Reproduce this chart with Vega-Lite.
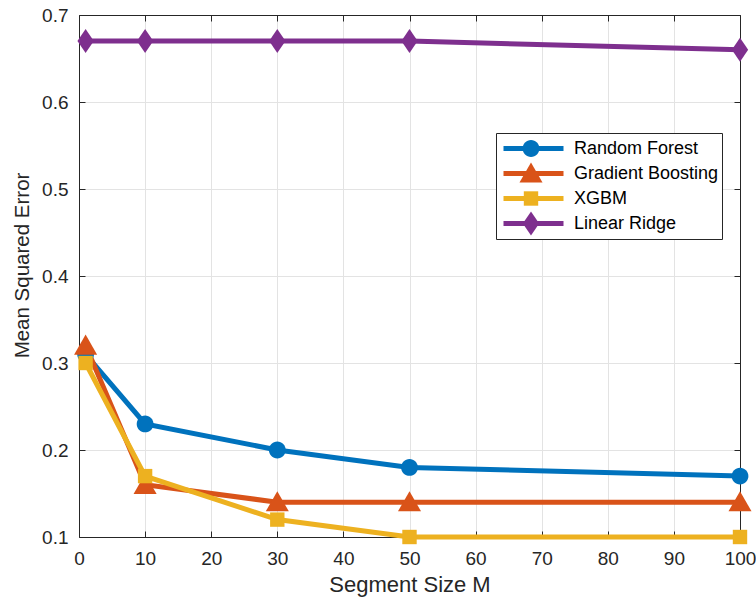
{
  "$schema": "https://vega.github.io/schema/vega-lite/v6.json",
  "width": 661,
  "height": 522,
  "autosize": {"type": "none"},
  "padding": {"left": 79, "top": 15, "right": 16, "bottom": 64},
  "background": "white",
  "config": {
    "view": {"stroke": null},
    "font": "Liberation Sans",
    "axis": {
      "domainColor": "#262626",
      "tickColor": "#262626",
      "tickSize": -6,
      "labelColor": "#262626",
      "labelFontSize": 19,
      "titleColor": "#262626",
      "titleFontSize": 21,
      "titleFontWeight": "normal",
      "gridColor": "#e3e3e3",
      "labelFlush": false,
      "labelOverlap": false
    }
  },
  "data": {
    "values": [
      {"model": "Random Forest", "M": 1, "mse": 0.31},
      {"model": "Random Forest", "M": 10, "mse": 0.23},
      {"model": "Random Forest", "M": 30, "mse": 0.20},
      {"model": "Random Forest", "M": 50, "mse": 0.18},
      {"model": "Random Forest", "M": 100, "mse": 0.17},
      {"model": "Gradient Boosting", "M": 1, "mse": 0.32},
      {"model": "Gradient Boosting", "M": 10, "mse": 0.16},
      {"model": "Gradient Boosting", "M": 30, "mse": 0.14},
      {"model": "Gradient Boosting", "M": 50, "mse": 0.14},
      {"model": "Gradient Boosting", "M": 100, "mse": 0.14},
      {"model": "XGBM", "M": 1, "mse": 0.30},
      {"model": "XGBM", "M": 10, "mse": 0.17},
      {"model": "XGBM", "M": 30, "mse": 0.12},
      {"model": "XGBM", "M": 50, "mse": 0.10},
      {"model": "XGBM", "M": 100, "mse": 0.10},
      {"model": "Linear Ridge", "M": 1, "mse": 0.67},
      {"model": "Linear Ridge", "M": 10, "mse": 0.67},
      {"model": "Linear Ridge", "M": 30, "mse": 0.67},
      {"model": "Linear Ridge", "M": 50, "mse": 0.67},
      {"model": "Linear Ridge", "M": 100, "mse": 0.66}
    ]
  },
  "layer": [
    {
      "mark": {"type": "line", "strokeWidth": 5, "clip": false},
      "encoding": {
        "x": {
          "field": "M", "type": "quantitative",
          "scale": {"domain": [0, 100], "nice": false, "zero": false},
          "axis": {"orient": "bottom", "values": [0,10,20,30,40,50,60,70,80,90,100], "grid": true, "title": "Segment Size M", "titleFontSize": 22, "labelPadding": 18, "titlePadding": 6}
        },
        "y": {
          "field": "mse", "type": "quantitative",
          "scale": {"domain": [0.1, 0.7], "nice": false, "zero": false},
          "axis": {"orient": "left", "values": [0.1,0.2,0.3,0.4,0.5,0.6,0.7], "format": ".1f", "grid": true, "title": "Mean Squared Error", "titleFontSize": 20.5, "titleY": 250, "labelPadding": 17, "titlePadding": 9}
        },
        "stroke": {
          "field": "model", "type": "nominal",
          "sort": ["Random Forest", "Gradient Boosting", "XGBM", "Linear Ridge"],
          "scale": {"range": ["#0072BD", "#D95319", "#EDB120", "#7E2F8E"]},
          "legend": {
            "orient": "none", "legendX": 417, "legendY": 118, "columns": 1,
            "symbolType": "stroke", "symbolSize": 3600, "symbolStrokeWidth": 5, "symbolOffset": 2,
            "clipHeight": 25, "rowPadding": 0, "padding": 3,
            "fillColor": "white", "strokeColor": "#262626",
            "labelFontSize": 18, "labelOffset": 8, "labelColor": "black",
            "title": null, "zindex": 0
          }
        }
      }
    },
    {
      "mark": {"type": "point", "filled": true, "opacity": 1, "size": 576, "strokeWidth": 0, "clip": false},
      "encoding": {
        "x": {
          "field": "M", "type": "quantitative",
          "axis": {"orient": "top", "values": [0,10,20,30,40,50,60,70,80,90,100], "grid": false, "labels": false, "title": null}
        },
        "y": {
          "field": "mse", "type": "quantitative",
          "axis": {"orient": "right", "values": [0.1,0.2,0.3,0.4,0.5,0.6,0.7], "grid": false, "labels": false, "title": null}
        },
        "color": {
          "field": "model", "type": "nominal",
          "scale": {"domain": ["Random Forest", "Gradient Boosting", "XGBM", "Linear Ridge"], "range": ["#0072BD", "#D95319", "#EDB120", "#7E2F8E"]},
          "legend": {
            "orient": "none", "legendX": 417, "legendY": 118, "columns": 1,
            "symbolSize": 576, "symbolStrokeWidth": 0, "symbolOffset": 20, "symbolOpacity": 1,
            "clipHeight": 25, "rowPadding": 0, "padding": 3,
            "labelFontSize": 18, "labelExpr": "''",
            "title": null, "zindex": 1
          }
        },
        "shape": {
          "field": "model", "type": "nominal",
          "scale": {
            "domain": ["Random Forest", "Gradient Boosting", "XGBM", "Linear Ridge"],
            "range": [
              "M-0.7,0A0.7,0.7 0 1,0 0.7,0A0.7,0.7 0 1,0 -0.7,0Z",
              "M0,-0.92L0.96,0.76L-0.96,0.76Z",
              "M-0.6,-0.6L0.6,-0.6L0.6,0.6L-0.6,0.6Z",
              "M0,-1L0.68,0L0,1L-0.68,0Z"
            ]
          },
          "legend": {
            "orient": "none", "legendX": 417, "legendY": 118, "columns": 1,
            "symbolSize": 576, "symbolStrokeWidth": 0, "symbolOffset": 20, "symbolOpacity": 1,
            "clipHeight": 25, "rowPadding": 0, "padding": 3,
            "labelFontSize": 18, "labelExpr": "''",
            "title": null, "zindex": 1
          }
        }
      }
    }
  ],
  "resolve": {"axis": {"x": "independent", "y": "independent"}}
}
